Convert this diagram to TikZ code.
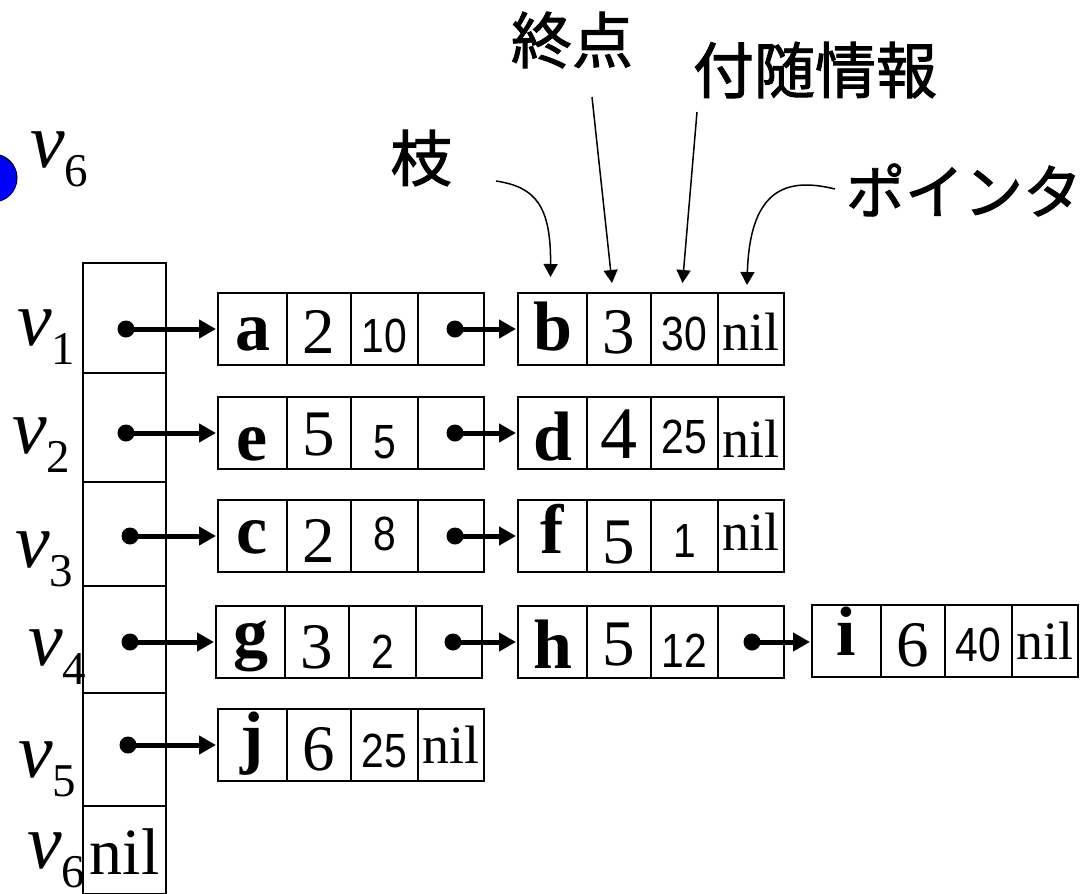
\documentclass[tikz,border=0pt]{standalone}
\usepackage{fontspec}
\usepackage{graphicx}
\setmainfont{Liberation Serif}
\newfontfamily\cjk[FakeBold=1.6]{Noto Sans CJK JP}
\newfontfamily\numsans{Liberation Sans}
\usetikzlibrary{arrows.meta}
\newcommand\recL[1]{\fontsize{70}{70}\selectfont\bfseries #1}
\newcommand\recD[1]{\fontsize{65}{65}\selectfont #1}
\newcommand\recS[1]{\scalebox{0.85}[1]{\numsans\fontsize{48}{48}\selectfont #1}}
\newcommand\recN{\fontsize{54}{54}\selectfont nil}
\newcommand\vlab[1]{\fontsize{78}{78}\selectfont\textit{v}\raisebox{-19pt}{\fontsize{47}{47}\selectfont #1}}
\tikzset{
  cellbox/.style={draw, line width=1.8pt, inner sep=0pt, outer sep=0pt, minimum height=72pt},
  colbox/.style={draw, line width=1.8pt, inner sep=0pt, outer sep=0pt, minimum width=83pt, anchor=north west},
  celltext/.style={anchor=base, inner sep=0pt},
  vtext/.style={anchor=base west, inner sep=0pt},
  dotn/.style={circle, fill=black, inner sep=0pt, minimum size=17pt},
  ptr/.style={line width=5pt, -{Triangle[length=17pt,width=18pt]}, shorten >=2pt},
  note/.style={line width=1.5pt, -{Triangle[length=13pt,width=14pt]}},
  cjkt/.style={font=\cjk\fontsize{61}{61}\selectfont, inner sep=0pt}
}
\newcommand\mkrec[3]{%
  \node[cellbox,minimum width=69pt,anchor=south west] (#1c1) at (#2,#3) {};
  \node[cellbox,minimum width=64pt,anchor=south west] (#1c2) at (#1c1.south east) {};
  \node[cellbox,minimum width=67pt,anchor=south west] (#1c3) at (#1c2.south east) {};
  \node[cellbox,minimum width=66pt,anchor=south west] (#1c4) at (#1c3.south east) {};
}
\newcommand\ctext[3]{\node[celltext] (#1t) at ([yshift=#2pt]#1.south) {#3};}
\begin{document}
\begin{tikzpicture}[x=1pt,y=-1pt]
\useasboundingbox (0,0) rectangle (1090,894);
\clip (0,0) rectangle (1090,894);

% top-left vertex
\node[circle, fill=blue, draw=black, line width=1pt, minimum size=48pt, inner sep=0pt] (vdot) at (-7,178) {};
\node[vtext] (vsix) at (30,167) {\vlab{6}};

% adjacency array
\node[colbox, minimum height=110pt] (k1) at (83,263) {};
\node[colbox, minimum height=109pt] (k2) at (83,373) {};
\node[colbox, minimum height=104pt] (k3) at (83,482) {};
\node[colbox, minimum height=107pt] (k4) at (83,586) {};
\node[colbox, minimum height=113pt] (k5) at (83,693) {};
\node[colbox, minimum height=88pt] (k6) at (83,806) {};
\node[celltext] (k6t) at ([yshift=20pt]k6.south) {\fontsize{66}{66}\selectfont nil};

\node[vtext] (l1) at (17,345) {\vlab{1}};
\node[vtext] (l2) at (12,453) {\vlab{2}};
\node[vtext] (l3) at (15,567) {\vlab{3}};
\node[vtext] (l4) at (28,665) {\vlab{4}};
\node[vtext] (l5) at (18,777) {\vlab{5}};
\node[vtext] (l6) at (27,868) {\vlab{6}};

% records
\mkrec{a}{218}{365}
\mkrec{b}{518}{365}
\mkrec{e}{218}{469}
\mkrec{d}{518}{469}
\mkrec{c}{218}{572}
\mkrec{f}{518}{572}
\mkrec{g}{216}{678}
\mkrec{h}{518}{678}
\mkrec{i}{812}{677}
\mkrec{j}{218}{781}

\ctext{ac1}{15}{\recL{a}} \ctext{ac2}{12}{\recD{2}} \ctext{ac3}{13}{\recS{10}}
\ctext{bc1}{15}{\recL{b}} \ctext{bc2}{12}{\recD{3}} \ctext{bc3}{15}{\recS{30}} \ctext{bc4}{15}{\recN}
\ctext{ec1}{9}{\recL{e}} \ctext{ec2}{14}{\recD{5}} \ctext{ec3}{11}{\recS{5}}
\ctext{dc1}{9}{\recL{d}} \ctext{dc2}{11}{\fontsize{74}{74}\selectfont 4} \ctext{dc3}{16}{\recS{25}} \ctext{dc4}{12}{\recN}
\ctext{cc1}{19}{\recL{c}} \ctext{cc2}{10}{\recD{2}} \ctext{cc3}{22}{\recS{8}}
\ctext{fc1}{19}{\recL{f}} \ctext{fc2}{9}{\recD{5}} \ctext{fc3}{15}{\recS{1}} \ctext{fc4}{22}{\recN}
\ctext{gc1}{22}{\recL{g}} \ctext{gc2}{10}{\recD{3}} \ctext{gc3}{10}{\recS{2}}
\ctext{hc1}{10}{\recL{h}} \ctext{hc2}{13}{\recD{5}} \ctext{hc3}{11}{\recS{12}}
\ctext{ic1}{22}{\recL{i}} \ctext{ic2}{11}{\recD{6}} \ctext{ic3}{16}{\recS{40}} \ctext{ic4}{18}{\recN}
\ctext{jc1}{21}{\recL{j}} \ctext{jc2}{11}{\recD{6}} \ctext{jc3}{14}{\recS{25}} \ctext{jc4}{18}{\recN}

% pointer dots
\node[dotn] (p1) at (126,329) {};
\node[dotn] (p2) at (126,433) {};
\node[dotn] (p3) at (130,536) {};
\node[dotn] (p4) at (130,642) {};
\node[dotn] (p5) at (128,745) {};
\node[dotn] (qa) at ([xshift=4pt]ac4.center) {};
\node[dotn] (qe) at ([xshift=4pt]ec4.center) {};
\node[dotn] (qc) at ([xshift=4pt]cc4.center) {};
\node[dotn] (qg) at ([xshift=4pt]gc4.center) {};
\node[dotn] (qh) at ([xshift=1pt]hc4.center) {};

\draw[ptr] (p1.center) -- (p1.center -| ac1.west);
\draw[ptr] (p2.center) -- (p2.center -| ec1.west);
\draw[ptr] (p3.center) -- (p3.center -| cc1.west);
\draw[ptr] (p4.center) -- (p4.center -| gc1.west);
\draw[ptr] (p5.center) -- (p5.center -| jc1.west);
\draw[ptr] (qa.center) -- (qa.center -| bc1.west);
\draw[ptr] (qe.center) -- (qe.center -| dc1.west);
\draw[ptr] (qc.center) -- (qc.center -| fc1.west);
\draw[ptr] (qg.center) -- (qg.center -| hc1.west);
\draw[ptr] (qh.center) -- (qh.center -| ic1.west);

% annotations
\node[cjkt] (tEdge) at (421,158) {枝};
\node[cjkt] (tEnd) at (572,40) {終点};
\node[cjkt] (tInfo) at (815,70) {付随情報};
\node[cjkt, font=\cjk\fontsize{59}{59}\selectfont] (tPtr) at (964,190) {ポインタ};

\coordinate (s1) at (496,181);
\coordinate (s2) at (592,97);
\coordinate (s3) at (697,112);
\coordinate (s4) at (835,189);
\coordinate (e1) at ([xshift=-2pt,yshift=16pt]bc1.north);
\coordinate (e2) at ([xshift=-7pt,yshift=10pt]bc2.north);
\coordinate (e3) at ([xshift=-2pt,yshift=10pt]bc3.north);
\coordinate (e4) at ([xshift=-4pt,yshift=8pt]bc4.north);

\draw[note] (s1) .. controls (535,187) and (551,205) .. (e1);
\draw[note] (s2) -- (e2);
\draw[note] (s3) -- (e3);
\draw[note] (s4) .. controls (790,178) and (750,185) .. (e4);
\end{tikzpicture}
\end{document}
